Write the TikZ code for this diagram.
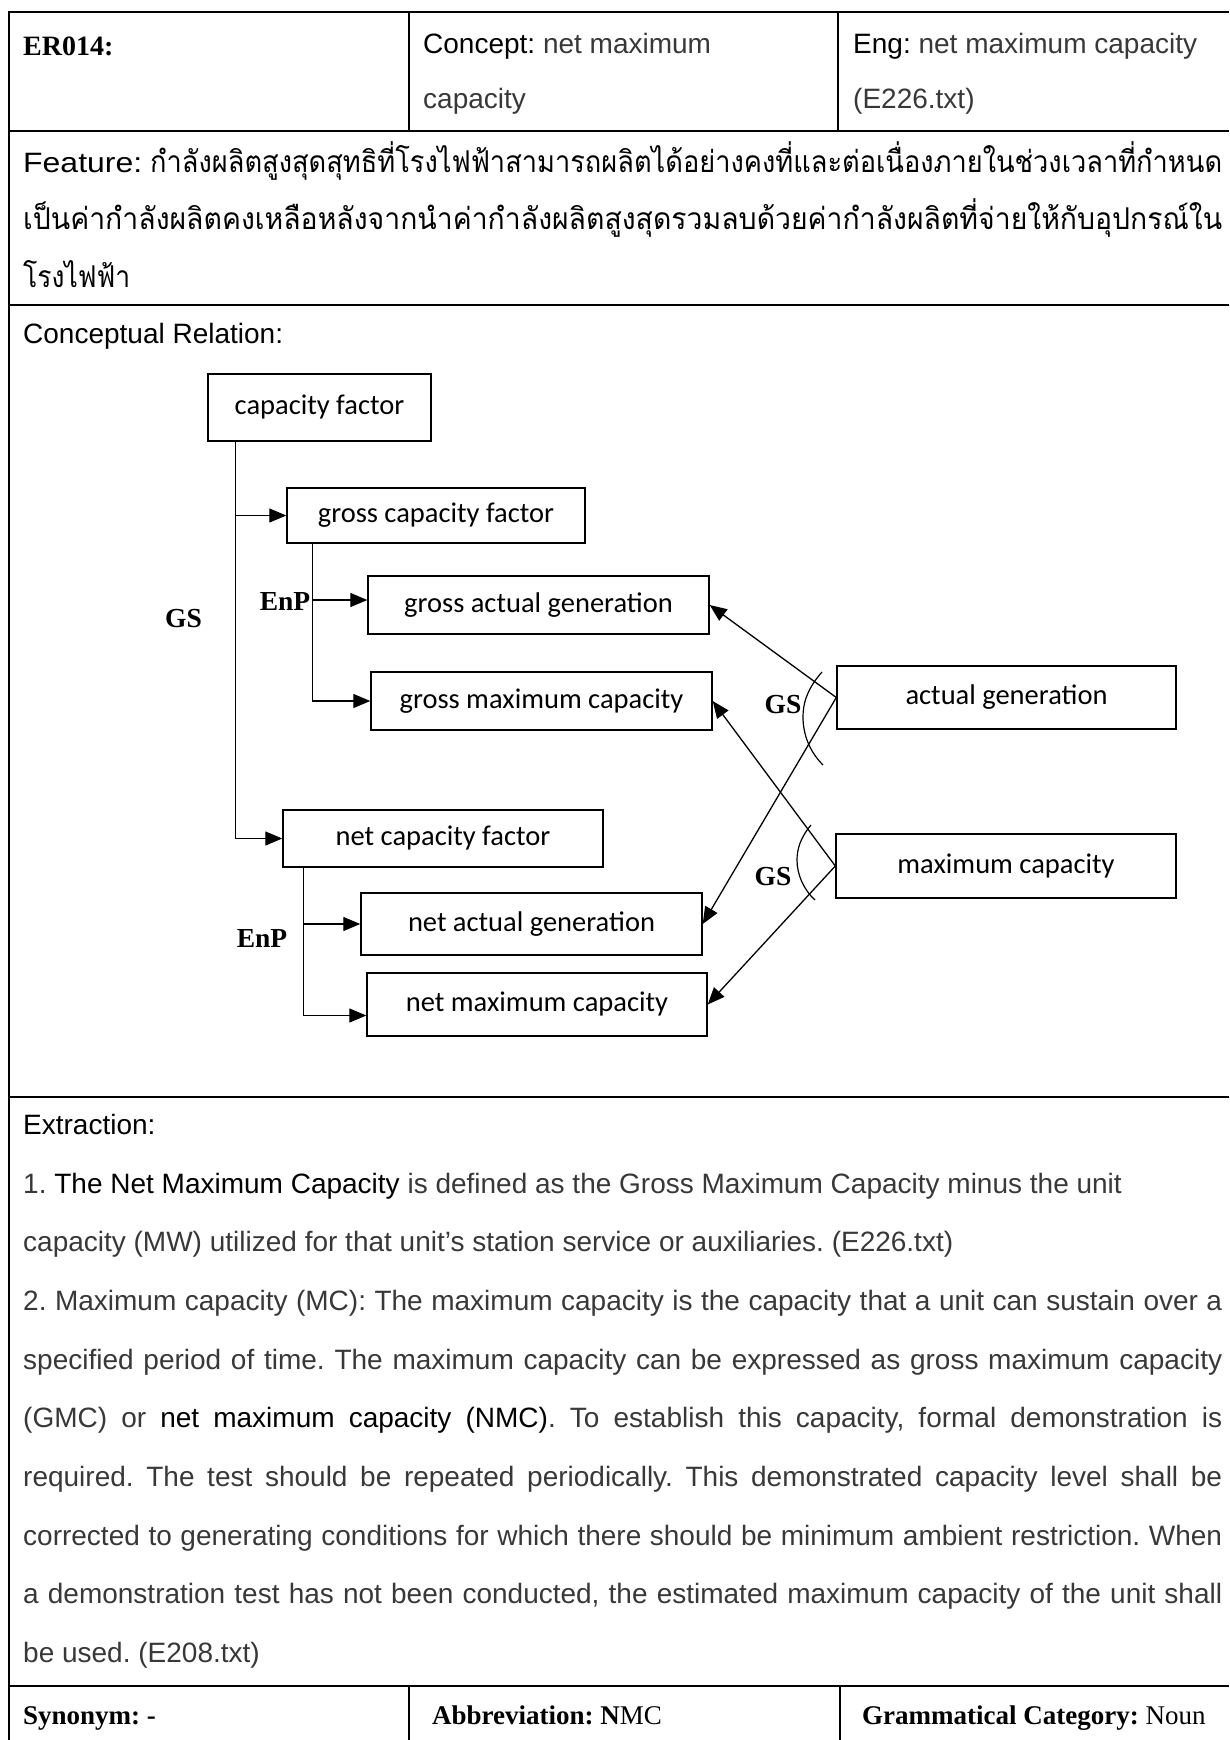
\documentclass[tikz,border=0pt]{standalone}
\usepackage{fontspec}
\usepackage{graphicx}
\usetikzlibrary{arrows.meta}
\setmainfont{Liberation Sans}
\newfontfamily\serifrm{Liberation Serif}
\newfontfamily\diafont{Carlito}
\newfontfamily\thaifont[Script=Thai]{Loma}
\definecolor{bodytext}{gray}{0.22}
\frenchspacing

% scale a piece of text horizontally to a given width
\newlength\fitlen
\newcommand\fitto[2]{\settowidth\fitlen{#2}\pgfmathsetmacro\fitr{#1/\fitlen}\scalebox{\fitr}[1]{#2}}

\begin{document}
\begin{tikzpicture}[x=1pt,y=-1pt,
  rule/.style={line width=2pt},
  coldiv/.style={line width=1.5pt},
  txt/.style={anchor=base west, inner sep=0pt, font=\fontsize{28}{30}\selectfont, text=bodytext},
  headtxt/.style={anchor=base west, inner sep=0pt, font=\serifrm\fontsize{27}{30}\selectfont, text=black},
  cbox/.style={draw, line width=1.4pt, inner sep=0pt, font=\diafont\fontsize{28.5}{30}\selectfont,
    text height=20pt, text depth=6pt},
  lbl/.style={font=\serifrm\bfseries\fontsize{27.5}{30}\selectfont, inner sep=0pt},
  link/.style={line width=1.3pt, -{Triangle[length=17pt,width=14pt]}},
  arcline/.style={line width=1.2pt}]
\useasboundingbox (0,0) rectangle (1229,1740);

% ---- table frame ----
\draw[rule] (9,12) -- (1229,12);
\draw[rule] (9,11) -- (9,1740);
\draw[rule] (9,131) -- (1229,131);
\draw[rule] (9,305) -- (1229,305);
\draw[rule] (9,1097) -- (1229,1097);
\draw[rule] (9,1686) -- (1229,1686);
\draw[coldiv] (409,12) -- (409,131);
\draw[coldiv] (838,12) -- (838,131);
\draw[coldiv] (409,1686) -- (409,1740);
\draw[coldiv] (840,1686) -- (840,1740);

% ---- header row ----
\node[headtxt, font=\serifrm\bfseries\fontsize{28}{30}\selectfont] (erid) at (23,55) {ER014:};
\node[txt] (concA) at (423,53) {\textcolor{black}{Concept:} net maximum};
\node[txt] (concB) at (423,108) {capacity};
\node[txt] (engA) at (853,53) {\textcolor{black}{Eng:} net maximum capacity};
\node[txt] (engB) at (853,108) {(E226.txt)};

% ---- feature row ----
\node[txt, text=black] (featlbl) at (23,172) {\fitto{119pt}{Feature:}};
\node[txt, text=black] (featA) at (150,172) {\fitto{1072pt}{\thaifont\fontsize{30}{32}\selectfont กำลังผลิตสูงสุดสุทธิที่โรงไฟฟ้าสามารถผลิตได้อย่างคงที่และต่อเนื่องภายในช่วงเวลาที่กำหนด}};
\node[txt, text=black] (featB) at (23,229.5) {\fitto{1199pt}{\thaifont\fontsize{30}{32}\selectfont เป็นค่ากำลังผลิตคงเหลือหลังจากนำค่ากำลังผลิตสูงสุดรวมลบด้วยค่ากำลังผลิตที่จ่ายให้กับอุปกรณ์ใน}};
\node[txt, text=black] (featC) at (23,287) {\fitto{107pt}{\thaifont\fontsize{30}{32}\selectfont โรงไฟฟ้า}};

% ---- conceptual relation ----
\node[txt, text=black] (crlbl) at (23,343) {Conceptual Relation:};

\node[cbox, minimum width=223pt, minimum height=67pt] (cf)  at (319.5,407.5) {capacity factor};
\node[cbox, minimum width=298pt, minimum height=55pt] (gcf) at (436,515.5)   {gross capacity factor};
\node[cbox, minimum width=341pt, minimum height=58pt] (gag) at (538.5,605)   {gross actual generation};
\node[cbox, minimum width=341pt, minimum height=58pt] (gmc) at (541.5,701)   {gross maximum capacity};
\node[cbox, minimum width=320pt, minimum height=57pt] (ncf) at (443,838.5)   {net capacity factor};
\node[cbox, minimum width=341pt, minimum height=62pt] (nag) at (531.5,924)   {net actual generation};
\node[cbox, minimum width=340pt, minimum height=63pt] (nmc) at (537,1004.5)  {net maximum capacity};
\node[cbox, minimum width=339pt, minimum height=63pt] (ag)  at (1006.5,697.5) {actual generation};
\node[cbox, minimum width=340pt, minimum height=64pt] (mc)  at (1006,866)    {maximum capacity};

% generic-specific trunk below capacity factor
\coordinate (gsTrunk) at ([xshift=28pt]cf.south west);
\draw[link] (gsTrunk) |- (ncf.west);
\draw[link] (gsTrunk |- gcf.west) -- (gcf.west);

% part-of trunk below gross capacity factor
\coordinate (enpA) at ([xshift=26pt]gcf.south west);
\coordinate (gagIn) at ([yshift=5pt]gag.west);
\draw[link] (enpA) |- (gmc.west);
\draw[link] (enpA |- gagIn) -- (gagIn);

% part-of trunk below net capacity factor
\coordinate (enpB) at ([xshift=21pt]ncf.south west);
\coordinate (nmcIn) at ([yshift=-11pt]nmc.west);
\draw[link] (enpB) |- (nmcIn);
\draw[link] (enpB |- nag.west) -- (nag.west);

% crossing generic-specific links
\draw[link] (ag.west) -- (gag.east);
\draw[link] (ag.west) -- (nag.east);
\draw[link] (mc.west) -- (gmc.east);
\draw[link] (mc.west) -- (nmc.east);

% grouping arcs
\draw[arcline] (822,672) .. controls (806,690) and (803,705) .. (803,717)
  .. controls (803,735) and (810,752) .. (823,765);
\draw[arcline] (811,825) .. controls (800,838) and (797,850) .. (797,860)
  .. controls (797,875) and (804,890) .. (815,900);

% relation labels
\node[lbl] (gsMain) at (183.5,619) {GS};
\node[lbl] (enpUp)  at (285,601)   {EnP};
\node[lbl] (enpLow) at (262,938)   {EnP};
\node[lbl] (gsAg)   at (783,705)   {GS};
\node[lbl] (gsMc)   at (773,877)   {GS};

% ---- extraction ----
\node[txt, text=black] (exhead) at (23,1134) {Extraction:};
\node[txt] (exA) at (23,1193) {1. \textcolor{black}{The Net Maximum Capacity} is defined as the Gross Maximum Capacity minus the unit};
\node[txt] (exB) at (23,1251) {capacity (MW) utilized for that unit’s station service or auxiliaries. (E226.txt)};
\node[txt] (exC) at (23,1310) {\makebox[1199pt][s]{2. Maximum capacity (MC): The maximum capacity is the capacity that a unit can sustain over a}};
\node[txt] (exD) at (23,1369) {\makebox[1199pt][s]{specified period of time. The maximum capacity can be expressed as gross maximum capacity}};
\node[txt] (exE) at (23,1427) {\makebox[1199pt][s]{(GMC) or \textcolor{black}{net maximum capacity (NMC)}. To establish this capacity, formal demonstration is}};
\node[txt] (exF) at (23,1486) {\makebox[1199pt][s]{required. The test should be repeated periodically. This demonstrated capacity level shall be}};
\node[txt] (exG) at (23,1545) {\makebox[1199pt][s]{corrected to generating conditions for which there should be minimum ambient restriction. When}};
\node[txt] (exH) at (23,1603) {\makebox[1199pt][s]{a demonstration test has not been conducted, the estimated maximum capacity of the unit shall}};
\node[txt] (exI) at (23,1662) {be used. (E208.txt)};

% ---- bottom row ----
\node[headtxt] (syn)  at (23,1724)  {\textbf{Synonym: -}};
\node[headtxt] (abbr) at (432,1724) {\textbf{Abbreviation: N}MC};
\node[headtxt] (gram) at (862,1724) {\textbf{Grammatical Category:} Noun};
\end{tikzpicture}
\end{document}
